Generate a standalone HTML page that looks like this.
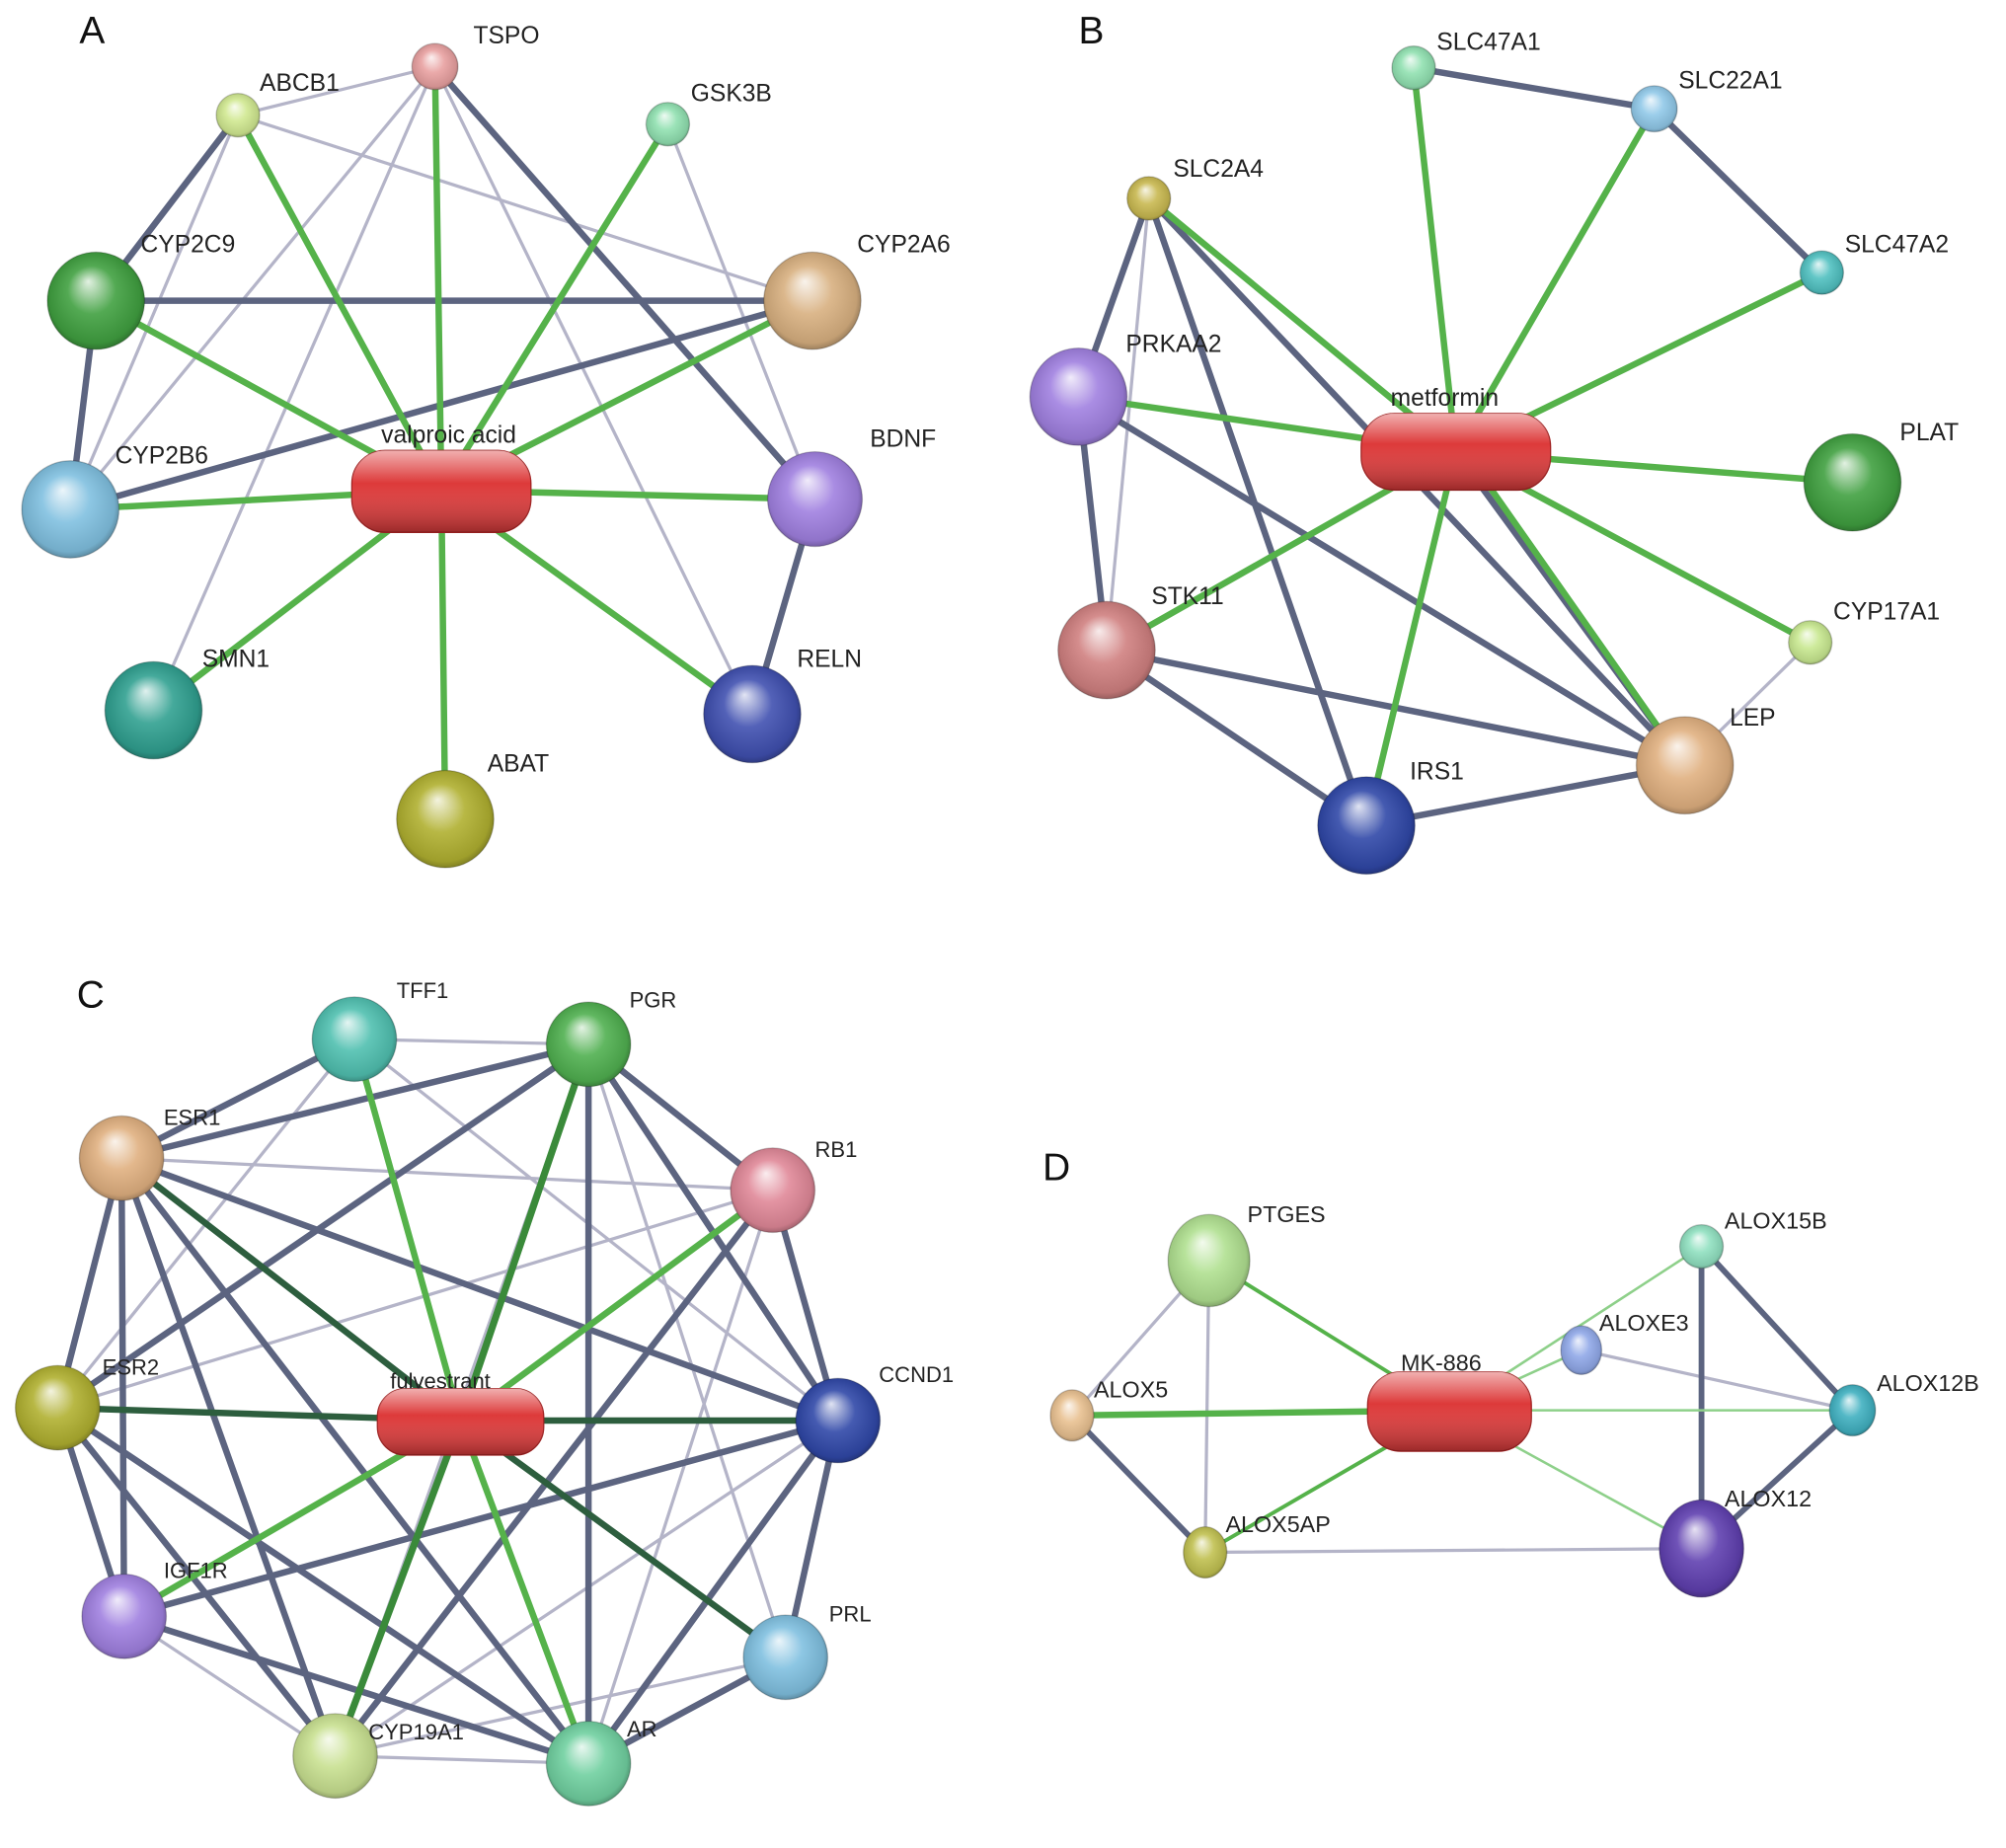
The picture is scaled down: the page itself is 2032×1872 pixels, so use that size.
<!DOCTYPE html>
<html><head><meta charset="utf-8"><style>html,body{margin:0;padding:0;background:#fff}svg{display:block}</style></head>
<body>
<svg width="2032" height="1872" viewBox="0 0 1568 1444" preserveAspectRatio="none" xmlns="http://www.w3.org/2000/svg" font-family="Liberation Sans, sans-serif">
<defs>
<radialGradient id="sh" cx="0.5" cy="0.5" r="0.55" fx="0.42" fy="0.3">
<stop offset="0" stop-color="#fff" stop-opacity="0.85"/>
<stop offset="0.45" stop-color="#fff" stop-opacity="0.1"/>
<stop offset="0.85" stop-color="#000" stop-opacity="0.1"/>
<stop offset="1" stop-color="#000" stop-opacity="0.4"/>
</radialGradient>
<linearGradient id="pl" x1="0" y1="0" x2="0" y2="1">
<stop offset="0" stop-color="#fff" stop-opacity="0.6"/>
<stop offset="0.4" stop-color="#fff" stop-opacity="0"/>
<stop offset="1" stop-color="#000" stop-opacity="0.3"/>
</linearGradient>
</defs>
<rect width="1568" height="1444" fill="#fff"/>
<g fill="none" stroke-linecap="round">
<!-- Panel A edges -->
<g stroke="#b4b4c8" stroke-width="2.5">
<line x1="186" y1="90" x2="340" y2="52"/><line x1="186" y1="90" x2="635" y2="235"/>
<line x1="340" y1="52" x2="120" y2="555"/><line x1="340" y1="52" x2="55" y2="398"/>
<line x1="340" y1="52" x2="588" y2="558"/><line x1="522" y1="97" x2="637" y2="390"/>
<line x1="186" y1="90" x2="55" y2="398"/>
</g>
<g stroke="#5c6480" stroke-width="5">
<line x1="75" y1="235" x2="635" y2="235"/><line x1="75" y1="235" x2="55" y2="398"/>
<line x1="55" y1="398" x2="635" y2="235"/><line x1="637" y1="390" x2="588" y2="558"/>
<line x1="340" y1="52" x2="637" y2="390"/><line x1="186" y1="90" x2="75" y2="235"/>
</g>
<g stroke="#55b24a" stroke-width="5">
<line x1="345" y1="383" x2="340" y2="52"/><line x1="345" y1="383" x2="186" y2="90"/>
<line x1="345" y1="383" x2="522" y2="97"/><line x1="345" y1="383" x2="75" y2="235"/>
<line x1="345" y1="383" x2="635" y2="235"/><line x1="345" y1="383" x2="55" y2="398"/>
<line x1="345" y1="383" x2="637" y2="390"/><line x1="345" y1="383" x2="120" y2="555"/>
<line x1="345" y1="383" x2="588" y2="558"/><line x1="345" y1="383" x2="348" y2="640"/>
</g>
<!-- Panel B edges -->
<g stroke="#b4b4c8" stroke-width="2.5">
<line x1="898" y1="155" x2="865" y2="508"/><line x1="1415" y1="502" x2="1317" y2="598"/>
</g>
<g stroke="#5c6480" stroke-width="5">
<line x1="1105" y1="53" x2="1293" y2="85"/><line x1="1293" y1="85" x2="1424" y2="213"/>
<line x1="898" y1="155" x2="843" y2="310"/><line x1="898" y1="155" x2="1068" y2="645"/>
<line x1="898" y1="155" x2="1317" y2="598"/><line x1="843" y1="310" x2="865" y2="508"/>
<line x1="843" y1="310" x2="1317" y2="598"/><line x1="865" y1="508" x2="1317" y2="598"/>
<line x1="865" y1="508" x2="1068" y2="645"/><line x1="1068" y1="645" x2="1317" y2="598"/>
<line x1="1138" y1="353" x2="1317" y2="598"/>
</g>
<g stroke="#55b24a" stroke-width="5">
<line x1="1138" y1="353" x2="1105" y2="53"/><line x1="1138" y1="353" x2="1293" y2="85"/>
<line x1="1138" y1="353" x2="1424" y2="213"/><line x1="1138" y1="353" x2="898" y2="155"/>
<line x1="1138" y1="353" x2="843" y2="310"/><line x1="1138" y1="353" x2="1448" y2="377"/>
<line x1="1138" y1="353" x2="1415" y2="502"/><line x1="1138" y1="353" x2="865" y2="508"/>
<line x1="1138" y1="353" x2="1068" y2="645"/><line x1="1150" y1="360" x2="1317" y2="598"/>
</g>
<!-- Panel C edges -->
<g stroke="#b4b4c8" stroke-width="2.5">
<line x1="277" y1="812" x2="460" y2="816"/><line x1="277" y1="812" x2="45" y2="1100"/>
<line x1="277" y1="812" x2="655" y2="1110"/><line x1="95" y1="905" x2="604" y2="930"/>
<line x1="95" y1="905" x2="655" y2="1110"/><line x1="460" y1="816" x2="614" y2="1295"/>
<line x1="45" y1="1100" x2="604" y2="930"/><line x1="97" y1="1263" x2="262" y2="1372"/>
<line x1="262" y1="1372" x2="655" y2="1110"/><line x1="97" y1="1263" x2="655" y2="1110"/>
<line x1="262" y1="1372" x2="460" y2="1378"/><line x1="262" y1="1372" x2="614" y2="1295"/>
<line x1="604" y1="930" x2="460" y2="1378"/><line x1="460" y1="816" x2="262" y2="1372"/>
</g>
<g stroke="#5c6480" stroke-width="5">
<line x1="95" y1="905" x2="277" y2="812"/><line x1="95" y1="905" x2="460" y2="816"/>
<line x1="95" y1="905" x2="45" y2="1100"/><line x1="95" y1="905" x2="97" y2="1263"/>
<line x1="95" y1="905" x2="262" y2="1372"/><line x1="95" y1="905" x2="460" y2="1378"/>
<line x1="95" y1="905" x2="655" y2="1110"/><line x1="460" y1="816" x2="45" y2="1100"/>
<line x1="460" y1="816" x2="604" y2="930"/><line x1="460" y1="816" x2="655" y2="1110"/>
<line x1="460" y1="816" x2="460" y2="1378"/><line x1="45" y1="1100" x2="97" y2="1263"/>
<line x1="45" y1="1100" x2="262" y2="1372"/><line x1="45" y1="1100" x2="460" y2="1378"/>
<line x1="604" y1="930" x2="655" y2="1110"/><line x1="604" y1="930" x2="262" y2="1372"/>
<line x1="655" y1="1110" x2="460" y2="1378"/><line x1="655" y1="1110" x2="614" y2="1295"/>
<line x1="97" y1="1263" x2="460" y2="1378"/><line x1="614" y1="1295" x2="460" y2="1378"/>
<line x1="655" y1="1110" x2="97" y2="1263"/>
</g>
<g stroke="#55b24a" stroke-width="5">
<line x1="360" y1="1110" x2="277" y2="812"/><line x1="360" y1="1110" x2="604" y2="930"/>
<line x1="360" y1="1110" x2="97" y2="1263"/><line x1="360" y1="1110" x2="460" y2="1378"/>
</g>
<g stroke="#3a8a3a" stroke-width="5.5">
<line x1="360" y1="1110" x2="460" y2="816"/><line x1="360" y1="1110" x2="262" y2="1372"/>
</g>
<g stroke="#2d5e3e" stroke-width="5">
<line x1="360" y1="1110" x2="95" y2="905"/><line x1="360" y1="1110" x2="45" y2="1100"/>
<line x1="360" y1="1110" x2="655" y2="1110"/><line x1="360" y1="1110" x2="614" y2="1295"/>
</g>
<!-- Panel D edges -->
<g stroke="#b4b4c8" stroke-width="2.5">
<line x1="945" y1="985" x2="942" y2="1213"/><line x1="942" y1="1213" x2="1330" y2="1210"/>
<line x1="1236" y1="1055" x2="1448" y2="1102"/><line x1="945" y1="985" x2="838" y2="1106"/>
</g>
<g stroke="#5c6480" stroke-width="4.5">
<line x1="838" y1="1106" x2="942" y2="1213"/><line x1="1330" y1="974" x2="1330" y2="1210"/>
<line x1="1330" y1="974" x2="1448" y2="1102"/><line x1="1330" y1="1210" x2="1448" y2="1102"/>
</g>
<g stroke="#8ed08a" stroke-width="2">
<line x1="1133" y1="1102" x2="1330" y2="974"/><line x1="1133" y1="1102" x2="1236" y2="1055"/>
<line x1="1133" y1="1102" x2="1448" y2="1102"/><line x1="1133" y1="1102" x2="1330" y2="1210"/>
</g>
<g stroke="#55b24a" stroke-width="3">
<line x1="1133" y1="1102" x2="945" y2="985"/><line x1="1133" y1="1102" x2="942" y2="1213"/>
</g>
<line x1="1133" y1="1102" x2="838" y2="1106" stroke="#55b24a" stroke-width="5"/>
</g>
<!-- nodes -->
<g stroke="#00000033" stroke-width="1">
<circle cx="340" cy="52" r="18" fill="#e8a0a0"/><circle cx="186" cy="90" r="17" fill="#d0e890"/>
<circle cx="522" cy="97" r="17" fill="#90e0b0"/><circle cx="75" cy="235" r="38" fill="#40a040"/>
<circle cx="635" cy="235" r="38" fill="#d8b080"/><circle cx="55" cy="398" r="38" fill="#80c0e0"/>
<circle cx="637" cy="390" r="37" fill="#a080e0"/><circle cx="120" cy="555" r="38" fill="#30a090"/>
<circle cx="588" cy="558" r="38" fill="#4050b0"/><circle cx="348" cy="640" r="38" fill="#b0b030"/>
<circle cx="1105" cy="53" r="17" fill="#90e0b0"/><circle cx="1293" cy="85" r="18" fill="#90c8e8"/>
<circle cx="898" cy="155" r="17" fill="#c8b850"/><circle cx="1424" cy="213" r="17" fill="#50c0c0"/>
<circle cx="843" cy="310" r="38" fill="#a080e0"/><circle cx="1448" cy="377" r="38" fill="#40a040"/>
<circle cx="1415" cy="502" r="17" fill="#c8e890"/><circle cx="865" cy="508" r="38" fill="#d08080"/>
<circle cx="1317" cy="598" r="38" fill="#e0b080"/><circle cx="1068" cy="645" r="38" fill="#3048a8"/>
<circle cx="277" cy="812" r="33" fill="#50c0b0"/><circle cx="460" cy="816" r="33" fill="#50b050"/>
<circle cx="95" cy="905" r="33" fill="#e0b080"/><circle cx="604" cy="930" r="33" fill="#e08898"/>
<circle cx="45" cy="1100" r="33" fill="#b0b030"/><circle cx="655" cy="1110" r="33" fill="#3048a8"/>
<circle cx="97" cy="1263" r="33" fill="#a080e0"/><circle cx="614" cy="1295" r="33" fill="#80c0e0"/>
<circle cx="262" cy="1372" r="33" fill="#c8e090"/><circle cx="460" cy="1378" r="33" fill="#70d0a0"/>
<ellipse cx="945" cy="985" rx="32" ry="36" fill="#b0e090"/><circle cx="1330" cy="974" r="17" fill="#90e0c0"/>
<ellipse cx="1236" cy="1055" rx="16" ry="19" fill="#90a8e8"/><ellipse cx="838" cy="1106" rx="17" ry="20" fill="#e8c090"/>
<ellipse cx="1448" cy="1102" rx="18" ry="20" fill="#40b0c0"/><ellipse cx="942" cy="1213" rx="17" ry="20" fill="#c0c050"/>
<ellipse cx="1330" cy="1210" rx="33" ry="38" fill="#6040b0"/>
</g>
<g fill="url(#sh)">
<circle cx="340" cy="52" r="18"/><circle cx="186" cy="90" r="17"/><circle cx="522" cy="97" r="17"/>
<circle cx="75" cy="235" r="38"/><circle cx="635" cy="235" r="38"/><circle cx="55" cy="398" r="38"/>
<circle cx="637" cy="390" r="37"/><circle cx="120" cy="555" r="38"/><circle cx="588" cy="558" r="38"/>
<circle cx="348" cy="640" r="38"/><circle cx="1105" cy="53" r="17"/><circle cx="1293" cy="85" r="18"/>
<circle cx="898" cy="155" r="17"/><circle cx="1424" cy="213" r="17"/><circle cx="843" cy="310" r="38"/>
<circle cx="1448" cy="377" r="38"/><circle cx="1415" cy="502" r="17"/><circle cx="865" cy="508" r="38"/>
<circle cx="1317" cy="598" r="38"/><circle cx="1068" cy="645" r="38"/><circle cx="277" cy="812" r="33"/>
<circle cx="460" cy="816" r="33"/><circle cx="95" cy="905" r="33"/><circle cx="604" cy="930" r="33"/>
<circle cx="45" cy="1100" r="33"/><circle cx="655" cy="1110" r="33"/><circle cx="97" cy="1263" r="33"/>
<circle cx="614" cy="1295" r="33"/><circle cx="262" cy="1372" r="33"/><circle cx="460" cy="1378" r="33"/>
<ellipse cx="945" cy="985" rx="32" ry="36"/><circle cx="1330" cy="974" r="17"/>
<ellipse cx="1236" cy="1055" rx="16" ry="19"/><ellipse cx="838" cy="1106" rx="17" ry="20"/>
<ellipse cx="1448" cy="1102" rx="18" ry="20"/><ellipse cx="942" cy="1213" rx="17" ry="20"/>
<ellipse cx="1330" cy="1210" rx="33" ry="38"/>
</g>
<!-- pills -->
<g fill="#dd3a3a" stroke="#a02020" stroke-width="1">
<rect x="275" y="352" width="140" height="64" rx="26"/><rect x="1064" y="323" width="148" height="60" rx="26"/>
<rect x="295" y="1085" width="130" height="52" rx="22"/><rect x="1069" y="1072" width="128" height="62" rx="26"/>
</g>
<g fill="url(#pl)">
<rect x="275" y="352" width="140" height="64" rx="26"/><rect x="1064" y="323" width="148" height="60" rx="26"/>
<rect x="295" y="1085" width="130" height="52" rx="22"/><rect x="1069" y="1072" width="128" height="62" rx="26"/>
</g>
<!-- labels -->
<g font-size="19" fill="#222">
<text x="370" y="34">TSPO</text><text x="203" y="71">ABCB1</text><text x="540" y="79">GSK3B</text>
<text x="110" y="197">CYP2C9</text><text x="670" y="197">CYP2A6</text><text x="90" y="362">CYP2B6</text>
<text x="298" y="346">valproic acid</text><text x="680" y="349">BDNF</text><text x="158" y="521">SMN1</text>
<text x="623" y="521">RELN</text><text x="381" y="603">ABAT</text>
<text x="1123" y="39">SLC47A1</text><text x="1312" y="69">SLC22A1</text><text x="917" y="138">SLC2A4</text>
<text x="1442" y="197">SLC47A2</text><text x="880" y="275">PRKAA2</text><text x="1087" y="317">metformin</text>
<text x="1485" y="344">PLAT</text><text x="1433" y="484">CYP17A1</text><text x="900" y="472">STK11</text>
<text x="1352" y="567">LEP</text><text x="1102" y="609">IRS1</text>
<text x="310" y="780" font-size="17">TFF1</text><text x="492" y="787" font-size="17">PGR</text>
<text x="128" y="879" font-size="17">ESR1</text><text x="637" y="904" font-size="17">RB1</text>
<text x="80" y="1074" font-size="17">ESR2</text><text x="305" y="1085" font-size="17">fulvestrant</text>
<text x="687" y="1080" font-size="17">CCND1</text><text x="128" y="1233" font-size="17">IGF1R</text>
<text x="648" y="1267" font-size="17">PRL</text><text x="288" y="1359" font-size="17">CYP19A1</text>
<text x="490" y="1357" font-size="17">AR</text>
<text x="975" y="955" font-size="18">PTGES</text><text x="1348" y="960" font-size="18">ALOX15B</text>
<text x="1250" y="1040" font-size="18">ALOXE3</text><text x="855" y="1092" font-size="18">ALOX5</text>
<text x="1095" y="1071" font-size="18">MK-886</text><text x="1467" y="1087" font-size="18">ALOX12B</text>
<text x="958" y="1197" font-size="18">ALOX5AP</text><text x="1348" y="1177" font-size="18">ALOX12</text>
</g>
<g font-size="30" fill="#111">
<text x="62" y="34">A</text><text x="843" y="34">B</text><text x="60" y="787">C</text><text x="815" y="922">D</text>
</g>
</svg>
</body></html>
